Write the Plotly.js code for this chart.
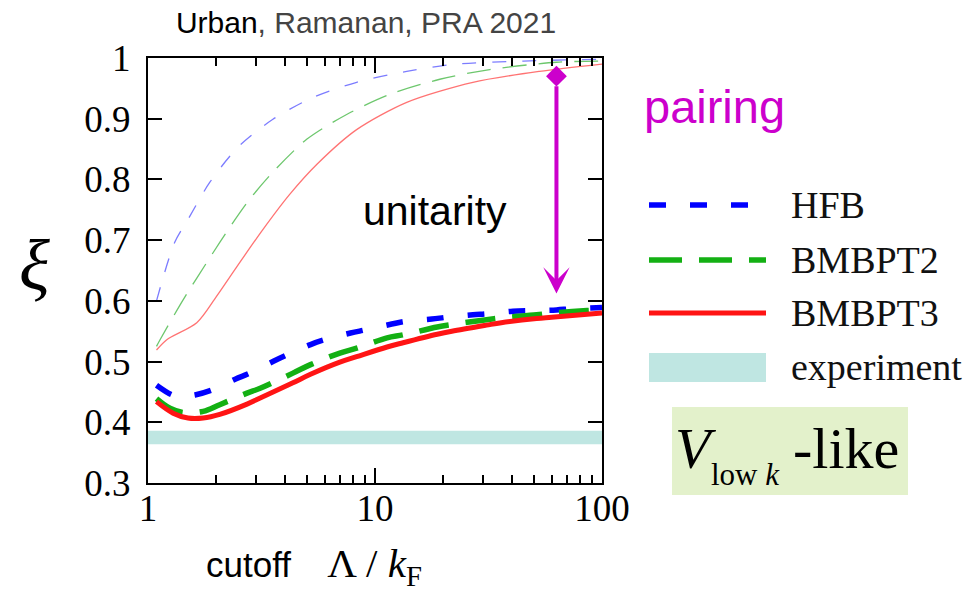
<!DOCTYPE html>
<html>
<head>
<meta charset="utf-8">
<script src="https://cdn.plot.ly/plotly-3.0.1.min.js"></script>
<style>html,body{margin:0;padding:0;background:#fff;}#chart{width:970px;height:594px;}</style>
</head>
<body>
<div id="chart"></div>
<script>
// ---- data ----
// thick curves: Vlow k-like interaction
const hfbX  = [1.09, 1.28, 1.4, 1.61, 1.91, 2.42, 2.81, 3.55, 4.1, 5.2, 6.0, 7.8, 9.0, 11.6, 13.5, 17.8, 20.7, 27, 31.5, 40.5, 48, 63, 73, 100];
const hfbY  = [0.461, 0.445, 0.443, 0.445, 0.453, 0.471, 0.481, 0.500, 0.511, 0.528, 0.536, 0.547, 0.552, 0.561, 0.566, 0.570, 0.573, 0.577, 0.579, 0.583, 0.584, 0.585, 0.587, 0.589];
const bm2X  = [1.09, 1.25, 1.43, 1.75, 2.07, 2.73, 3.12, 4.35, 5.2, 7.0, 8.3, 11.3, 13.3, 18.8, 21.8, 31, 36, 51.5, 60, 86, 100];
const bm2Y  = [0.439, 0.423, 0.416, 0.418, 0.429, 0.448, 0.456, 0.481, 0.495, 0.514, 0.522, 0.539, 0.544, 0.557, 0.561, 0.569, 0.572, 0.577, 0.580, 0.584, 0.585];
const bm3X  = [1.09, 1.29, 1.5, 1.75, 2.07, 2.73, 3.12, 4.35, 5.2, 7.0, 8.3, 11.3, 13.3, 18.8, 21.8, 31, 36, 51.5, 60, 86, 100];
const bm3Y  = [0.434, 0.415, 0.407, 0.407, 0.413, 0.430, 0.440, 0.465, 0.479, 0.499, 0.508, 0.524, 0.531, 0.545, 0.550, 0.560, 0.564, 0.571, 0.573, 0.578, 0.580];
// thin curves: unitarity limit
const hfbUX = [1.09, 1.31, 1.5, 1.87, 2.49, 3.55, 5.33, 8.3, 13.8, 22.9, 45, 100];
const hfbUY = [0.600, 0.696, 0.734, 0.795, 0.853, 0.899, 0.935, 0.960, 0.978, 0.990, 0.995, 0.998];
const bm2UX = [1.09, 1.13, 1.43, 1.91, 2.3, 2.8, 3.55, 5.0, 7.5, 11.6, 19.3, 32, 63, 100];
const bm2UY = [0.525, 0.536, 0.602, 0.676, 0.722, 0.767, 0.812, 0.866, 0.907, 0.940, 0.965, 0.981, 0.993, 0.995];
const bm3UX = [1.09, 1.21, 1.64, 2.0, 2.46, 3.2, 4.2, 5.55, 8.3, 13.8, 27, 53, 100];
const bm3UY = [0.519, 0.536, 0.564, 0.607, 0.656, 0.717, 0.775, 0.825, 0.882, 0.927, 0.960, 0.978, 0.990];
// experiment band
const expX = [1, 100];
const expLow = 0.364, expHigh = 0.386;
// pairing arrow
const arrowX = 63, arrowFrom = 0.970, arrowTo = 0.612;
// ticks and labels
const yTickVals = [0.3, 0.4, 0.5, 0.6, 0.7, 0.8, 0.9, 1.0];
const yTickText = ['0.3', '0.4', '0.5', '0.6', '0.7', '0.8', '0.9', '1'];
const xTickVals = [1, 10, 100];
const xTickText = ['1', '10', '100'];
const xMinorVals = [2, 3, 4, 5, 6, 7, 8, 9, 20, 30, 40, 50, 60, 70, 80, 90];
const legendNames = ['HFB', 'BMBPT2', 'BMBPT3', 'experiment'];

// ---- styles ----
const BLUE = '#0000ff', GREEN = '#13b013', RED = '#ff1414', TEAL = '#bfe6e2', MAG = '#cc00cc';
const SERIF = 'Liberation Serif';
const SANS = 'Liberation Sans';
const PL = 148, PR = 602, PT = 58, PB = 483;
const PX = x => (x - PL) / (PR - PL);
const PY = y => (PB - y) / (PB - PT);
const serifSpan = t => '<span style="font-family:Liberation Serif">' + t + '</span>';

const traces = [
  { x: [expX[0], expX[1], expX[1], expX[0]], y: [expLow, expLow, expHigh, expHigh], fill: 'toself', fillcolor: TEAL, line: { width: 0 }, mode: 'lines', name: 'experiment', hoverinfo: 'skip' },
  { x: hfbUX, y: hfbUY, mode: 'lines', line: { color: 'rgba(80,80,255,0.75)', width: 1.3, dash: '14px,16px', shape: 'spline', smoothing: 0.8 }, name: 'HFB unitarity' },
  { x: bm2UX, y: bm2UY, mode: 'lines', line: { color: 'rgba(60,180,60,0.75)', width: 1.3, dash: '24px,12px', shape: 'spline', smoothing: 0.8 }, name: 'BMBPT2 unitarity' },
  { x: bm3UX, y: bm3UY, mode: 'lines', line: { color: 'rgba(255,80,80,0.8)', width: 1.3, shape: 'spline', smoothing: 0.8 }, name: 'BMBPT3 unitarity' },
  { x: hfbX, y: hfbY, mode: 'lines', line: { color: BLUE, width: 5.5, dash: '17px,24px', shape: 'spline' }, name: 'HFB' },
  { x: bm2X, y: bm2Y, mode: 'lines', line: { color: GREEN, width: 5.5, dash: '30px,17px', shape: 'spline' }, name: 'BMBPT2' },
  { x: bm3X, y: bm3Y, mode: 'lines', line: { color: RED, width: 5, shape: 'spline' }, name: 'BMBPT3' },
  { x: [arrowX], y: [arrowFrom], mode: 'markers', marker: { symbol: 'diamond', size: 16, color: MAG }, name: 'pairing', hoverinfo: 'skip' }
];

const shapes = [];
const annotations = [];
// custom legend
const legY = [205, 260, 313, 367];
const legStyles = [
  { color: BLUE, width: 5.5, dash: '17px,24px' },
  { color: GREEN, width: 5.5, dash: '33px,17px' },
  { color: RED, width: 5, dash: 'solid' }
];
const legEnd = [749, 766, 766];
for (let i = 0; i < 3; i++) {
  shapes.push({ type: 'line', xref: 'paper', yref: 'paper', x0: PX(649), x1: PX(legEnd[i]), y0: PY(legY[i]), y1: PY(legY[i]), line: legStyles[i] });
}
shapes.push({ type: 'rect', xref: 'paper', yref: 'paper', x0: PX(649), x1: PX(766), y0: PY(353), y1: PY(382), fillcolor: TEAL, line: { width: 0 } });
for (let i = 0; i < 4; i++) {
  annotations.push({ xref: 'paper', yref: 'paper', x: PX(789), y: PY(legY[i]), xanchor: 'left', yanchor: 'middle', showarrow: false, text: serifSpan(legendNames[i]), font: { family: SERIF, size: 38, color: '#111' } });
}
// V_low k box
shapes.push({ type: 'rect', xref: 'paper', yref: 'paper', x0: PX(672), x1: PX(908), y0: PY(407), y1: PY(495), fillcolor: '#e3f1cb', line: { width: 0 } });
annotations.push({ xref: 'paper', yref: 'paper', x: PX(696), y: PY(448), xanchor: 'center', yanchor: 'middle', showarrow: false, text: '<i>V</i>', font: { family: SERIF, size: 58, color: '#000' } });
annotations.push({ xref: 'paper', yref: 'paper', x: PX(709), y: PY(474), xanchor: 'left', yanchor: 'middle', showarrow: false, text: 'low <i>k</i>', font: { family: SERIF, size: 31, color: '#000' } });
annotations.push({ xref: 'paper', yref: 'paper', x: PX(791), y: PY(448), xanchor: 'left', yanchor: 'middle', showarrow: false, text: '-like', font: { family: SERIF, size: 58, color: '#000' } });
// texts
annotations.push({ xref: 'paper', yref: 'paper', x: PX(435), y: PY(211), xanchor: 'center', yanchor: 'middle', showarrow: false, text: 'unitarity', font: { family: SANS, size: 41, color: '#000' } });
annotations.push({ xref: 'paper', yref: 'paper', x: PX(714), y: PY(106), xanchor: 'center', yanchor: 'middle', showarrow: false, text: 'pairing', font: { family: SANS, size: 47, color: MAG } });
annotations.push({ xref: 'paper', yref: 'paper', x: PX(34), y: PY(266), xanchor: 'center', yanchor: 'middle', showarrow: false, text: '<i>ξ</i>', font: { family: SERIF, size: 72, color: '#000' } });
annotations.push({ xref: 'paper', yref: 'paper', x: PX(204), y: PY(566), xanchor: 'left', yanchor: 'middle', showarrow: false,
  text: 'cutoff\u00a0\u00a0\u00a0\u2009<span style="font-family:Liberation Serif;font-size:41px">Λ / <i>k</i><sub>F</sub></span>', font: { family: SANS, size: 35, color: '#000' } });
// pairing arrow
annotations.push({ xref: 'x', yref: 'y', axref: 'x', ayref: 'y', x: Math.log10(arrowX), y: arrowTo, ax: Math.log10(arrowX), ay: arrowFrom,
  showarrow: true, arrowhead: 3, arrowsize: 1.1, arrowwidth: 4, arrowcolor: MAG, text: ' ' });

const layout = {
  width: 970, height: 594,
  margin: { l: PL, r: 970 - PR, t: PT, b: 594 - PB, pad: 0 },
  paper_bgcolor: '#fff', plot_bgcolor: '#fff',
  showlegend: false,
  title: { text: '<span style="color:#000">Urban</span>, Ramanan, PRA 2021', font: { family: SANS, size: 30, color: '#444' }, x: PX(366), xref: 'paper', xanchor: 'center', y: 1 - 22 / 594, yanchor: 'middle', automargin: false },
  xaxis: {
    type: 'log', range: [0, 2], tickvals: xTickVals, ticktext: xTickText.map(serifSpan),
    ticks: 'inside', ticklen: 15, tickwidth: 2, tickcolor: '#000',
    showline: true, linewidth: 2, linecolor: '#000', mirror: 'ticks',
    showgrid: false, zeroline: false, ticklabelstandoff: -8,
    tickfont: { family: SERIF, size: 37, color: '#000' },
    minor: { tickvals: xMinorVals, ticks: 'inside', ticklen: 8, tickwidth: 2, tickcolor: '#000', showgrid: false }
  },
  yaxis: {
    range: [0.3, 1.0], tickvals: yTickVals, ticktext: yTickText.map(serifSpan),
    ticks: 'inside', ticklen: 14, tickwidth: 2, tickcolor: '#000',
    showline: true, linewidth: 2, linecolor: '#000', mirror: 'ticks',
    showgrid: false, zeroline: false, ticklabelstandoff: 8,
    tickfont: { family: SERIF, size: 37, color: '#000' }
  },
  shapes: shapes,
  annotations: annotations
};

Plotly.newPlot('chart', traces, layout, { staticPlot: true, displayModeBar: false });
</script>
</body>
</html>
